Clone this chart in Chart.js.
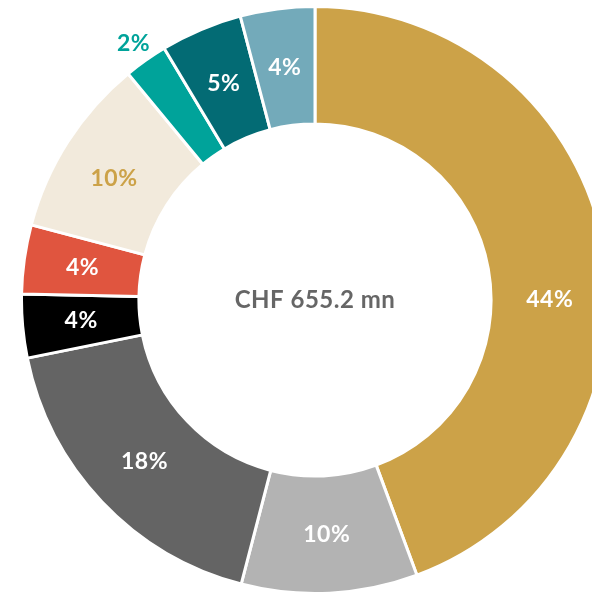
<!DOCTYPE html>
<html>
<head>
<meta charset="utf-8">
<script src="https://cdn.jsdelivr.net/npm/chart.js@4"></script>
<style>
    html, body { margin: 0; padding: 0; background: #fff; overflow: hidden; width: 592px; height: 594px; }
    #wrap { position: absolute; left: 20px; top: 5px; width: 590px; height: 590px; }
</style>
</head>
<body>
<div id="wrap"><canvas id="chart" width="590" height="590"></canvas></div>
<script>
const categories = ['Gold', 'Light grey', 'Dark grey', 'Black', 'Red', 'Beige', 'Teal', 'Dark teal', 'Light blue'];
const shares = [44.4, 9.7, 17.8, 3.5, 3.8, 9.9, 2.4, 4.5, 4.1];
const labels = ['44%', '10%', '18%', '4%', '4%', '10%', '2%', '5%', '4%'];
const sliceColors = ['#CCA248', '#B3B3B3', '#646464', '#000000', '#E0553F', '#F2EADC', '#00A39A', '#036B74', '#73AABA'];
const labelColors = ['#fff', '#fff', '#fff', '#fff', '#fff', '#CCA248', '#00A39A', '#fff', '#fff'];
const outsideLabels = [false, false, false, false, false, false, true, false, false];
// the big slice's label sits on the horizontal so it stays inside the cropped frame
const labelTurn = [10, 0, 0, 0, 0, -1.5, 0, 0, 0];
const centerText = 'CHF 655.2 mn';

const sliceLabels = {
    id: 'sliceLabels',
    afterDraw(chart) {
        const ctx = chart.ctx;
        const meta = chart.getDatasetMeta(0);
        ctx.save();
        ctx.textAlign = 'center';
        ctx.textBaseline = 'middle';
        ctx.font = 'bold 23px Lato, "Open Sans", sans-serif';
        ctx.letterSpacing = '0.5px';
        meta.data.forEach((arc, i) => {
            const mid = (arc.startAngle + arc.endAngle) / 2 + labelTurn[i] * Math.PI / 180;
            const r = outsideLabels[i] ? arc.outerRadius + 21 : (arc.innerRadius + arc.outerRadius) / 2;
            ctx.fillStyle = labelColors[i];
            ctx.fillText(labels[i], arc.x + Math.cos(mid) * r, arc.y + Math.sin(mid) * r);
        });
        const a = meta.data[0];
        ctx.fillStyle = '#666666';
        ctx.font = 'bold 24px Lato, "Open Sans", sans-serif';
        ctx.letterSpacing = '0.5px';
        ctx.fillText(centerText, a.x, a.y);
        ctx.restore();
    }
};

new Chart(document.getElementById('chart'), {
    type: 'doughnut',
    data: {
        labels: categories,
        datasets: [{
            data: shares,
            backgroundColor: sliceColors,
            borderColor: '#ffffff',
            borderWidth: 3
        }]
    },
    options: {
        responsive: false,
        animation: false,
        cutout: '60%',
        layout: { padding: 0 },
        plugins: { legend: { display: false }, tooltip: { enabled: false } }
    },
    plugins: [sliceLabels]
});
</script>
</body>
</html>
